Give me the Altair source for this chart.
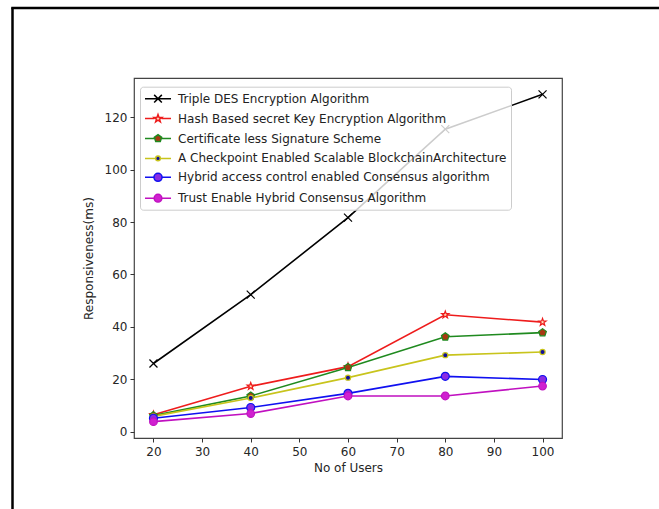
import math
import altair as alt
import pandas as pd

# ---------------- data ----------------
users = [20, 40, 60, 80, 100]
series_names = [
    "Triple DES Encryption Algorithm",
    "Hash Based secret Key Encryption Algorithm",
    "Certificate less Signature Scheme",
    "A Checkpoint Enabled Scalable BlockchainArchitecture",
    "Hybrid access control enabled Consensus algorithm",
    "Trust Enable Hybrid Consensus Algorithm",
]
des_values = [26.0, 52.3, 81.7, 115.5, 128.8]
hash_values = [6.4, 17.3, 24.8, 44.6, 41.8]
cert_values = [6.1, 13.6, 24.5, 36.2, 37.8]
checkpoint_values = [5.8, 12.8, 20.6, 29.2, 30.4]
hybrid_values = [5.1, 9.2, 14.6, 21.1, 19.9]
trust_values = [3.8, 6.9, 13.6, 13.6, 17.4]
x_ticks = [20, 30, 40, 50, 60, 70, 80, 90, 100]
y_ticks = [0, 20, 40, 60, 80, 100, 120]

all_values = [des_values, hash_values, cert_values, checkpoint_values,
              hybrid_values, trust_values]
rows = []
for name, vals in zip(series_names, all_values):
    for u, v in zip(users, vals):
        rows.append({"users": u, "value": v, "series": name})
df = pd.DataFrame(rows)

# ---------------- styles ----------------
line_colors = ["#000000", "#ee1c1c", "#1f8a1f", "#c8c41c", "#1010f0", "#c010c0"]
face_colors = ["#000000", "#ffe6c0", "#a83a12", "#10109a", "#8a2be2", "#d020d0"]


def star(R, ratio=0.4):
    pts = []
    for i in range(10):
        r = R if i % 2 == 0 else R * ratio
        a = -math.pi / 2 + i * math.pi / 5
        pts.append((r * math.cos(a), r * math.sin(a)))
    return "M" + "L".join(f"{x:.3f},{y:.3f}" for x, y in pts) + "Z"


def pentagon(R):
    pts = []
    for i in range(5):
        a = -math.pi / 2 + i * 2 * math.pi / 5
        pts.append((R * math.cos(a), R * math.sin(a)))
    return "M" + "L".join(f"{x:.3f},{y:.3f}" for x, y in pts) + "Z"


def circle(R):
    return f"M{R},0A{R},{R} 0 1,1 {-R},0A{R},{R} 0 1,1 {R},0Z"


def cross(R):
    return f"M{-R},{-R}L{R},{R}M{-R},{R}L{R},{-R}"


# plot markers (unit = 4 px with size 64)
marker_paths = [cross(1.0), star(0.95), pentagon(1.0), circle(0.65),
                circle(1.0), circle(0.95)]

# legend handles (unit = 7 px with size 196): line + marker
L = 1.857


def handle(marker, gap):
    if gap <= 0:
        return f"M{-L},0H{L}" + marker
    return f"M{-L},0H{-gap}M{gap},0H{L}" + marker


legend_paths = [
    handle(cross(0.55), 0),
    handle(star(0.58), 0.5),
    handle(pentagon(0.55), 0.45),
    handle(circle(0.33), 0.25),
    handle(circle(0.58), 0.5),
    handle(circle(0.55), 0.5),
]

FONT = "DejaVu Sans"
x_scale = alt.Scale(domain=[16, 104], nice=False, zero=False)
y_scale = alt.Scale(domain=[-2.45, 135.05], nice=False, zero=False)

x_enc = alt.X("users:Q", scale=x_scale,
              axis=alt.Axis(values=x_ticks, title="No of Users", labelPadding=4,
                            titlePadding=5))
y_enc = alt.Y("value:Q", scale=y_scale,
              axis=alt.Axis(values=y_ticks, title="Responsiveness(ms)",
                            labelPadding=3, titlePadding=9))

stroke_scale = alt.Scale(domain=series_names, range=line_colors)
fill_scale = alt.Scale(domain=series_names, range=face_colors)

lines = alt.Chart(df).mark_line(strokeWidth=1.6).encode(
    x=x_enc, y=y_enc,
    stroke=alt.Stroke("series:N", scale=stroke_scale, legend=None),
    detail="series:N",
)

points = alt.Chart(df).mark_point(filled=True, size=64, strokeWidth=1.2, opacity=1,
                                  fillOpacity=1).encode(
    x="users:Q", y="value:Q",
    stroke=alt.Stroke("series:N", scale=stroke_scale, legend=None),
    fill=alt.Fill("series:N", scale=fill_scale, legend=None),
    shape=alt.Shape("series:N", scale=alt.Scale(domain=series_names, range=marker_paths),
                    legend=None),
)

legend_spec = alt.Legend(
    title=None, orient="none", legendX=6, legendY=8.7, direction="vertical",
    fillColor="rgba(255,255,255,0.8)", strokeColor="#cccccc", cornerRadius=3,
    padding=4, labelFont=FONT, labelFontSize=12, labelColor="#222222",
    symbolSize=196, symbolOffset=6, labelOffset=12, rowPadding=4.9,
    symbolStrokeWidth=1.5, symbolOpacity=1, labelLimit=500,
)

legend_layer = alt.Chart(df).transform_filter("datum.users < 0").mark_point(
    filled=True, strokeWidth=1.5, opacity=1, fillOpacity=1
).encode(
    x="users:Q", y="value:Q",
    stroke=alt.Stroke("series:N", scale=alt.Scale(domain=series_names, range=line_colors),
                      legend=legend_spec),
    fill=alt.Fill("series:N", scale=alt.Scale(domain=series_names, range=face_colors),
                  legend=legend_spec),
    shape=alt.Shape("series:N", scale=alt.Scale(domain=series_names, range=legend_paths),
                    legend=legend_spec),
)

frame_df = pd.DataFrame({"k": [0]})
frame_left = alt.Chart(frame_df).mark_rule(color="#000000", strokeWidth=2.5).encode(
    x=alt.value(-121.5), y=alt.value(-70.5), y2=alt.value(440))
frame_top = alt.Chart(frame_df).mark_rule(color="#000000", strokeWidth=2.5).encode(
    y=alt.value(-70), x=alt.value(-122.7), x2=alt.value(600))

chart = alt.layer(lines, points, legend_layer, frame_left, frame_top).resolve_scale(
    stroke="independent", fill="independent", shape="independent"
).properties(
    width=428, height=360,
    autosize=alt.AutoSizeParams(type="none"),
    padding={"left": 134, "top": 78, "right": 97, "bottom": 71},
    background="white",
).configure_view(
    stroke="#444444", strokeWidth=1.2
).configure_axis(
    labelFont=FONT, labelFontSize=12, labelColor="#262626",
    titleFont=FONT, titleFontSize=12, titleFontWeight="normal", titleColor="#262626",
    tickColor="#333333", tickSize=4, tickWidth=1, domain=False, grid=False,
)

chart.save("out.html", embed_options={"renderer": "svg", "actions": False})
